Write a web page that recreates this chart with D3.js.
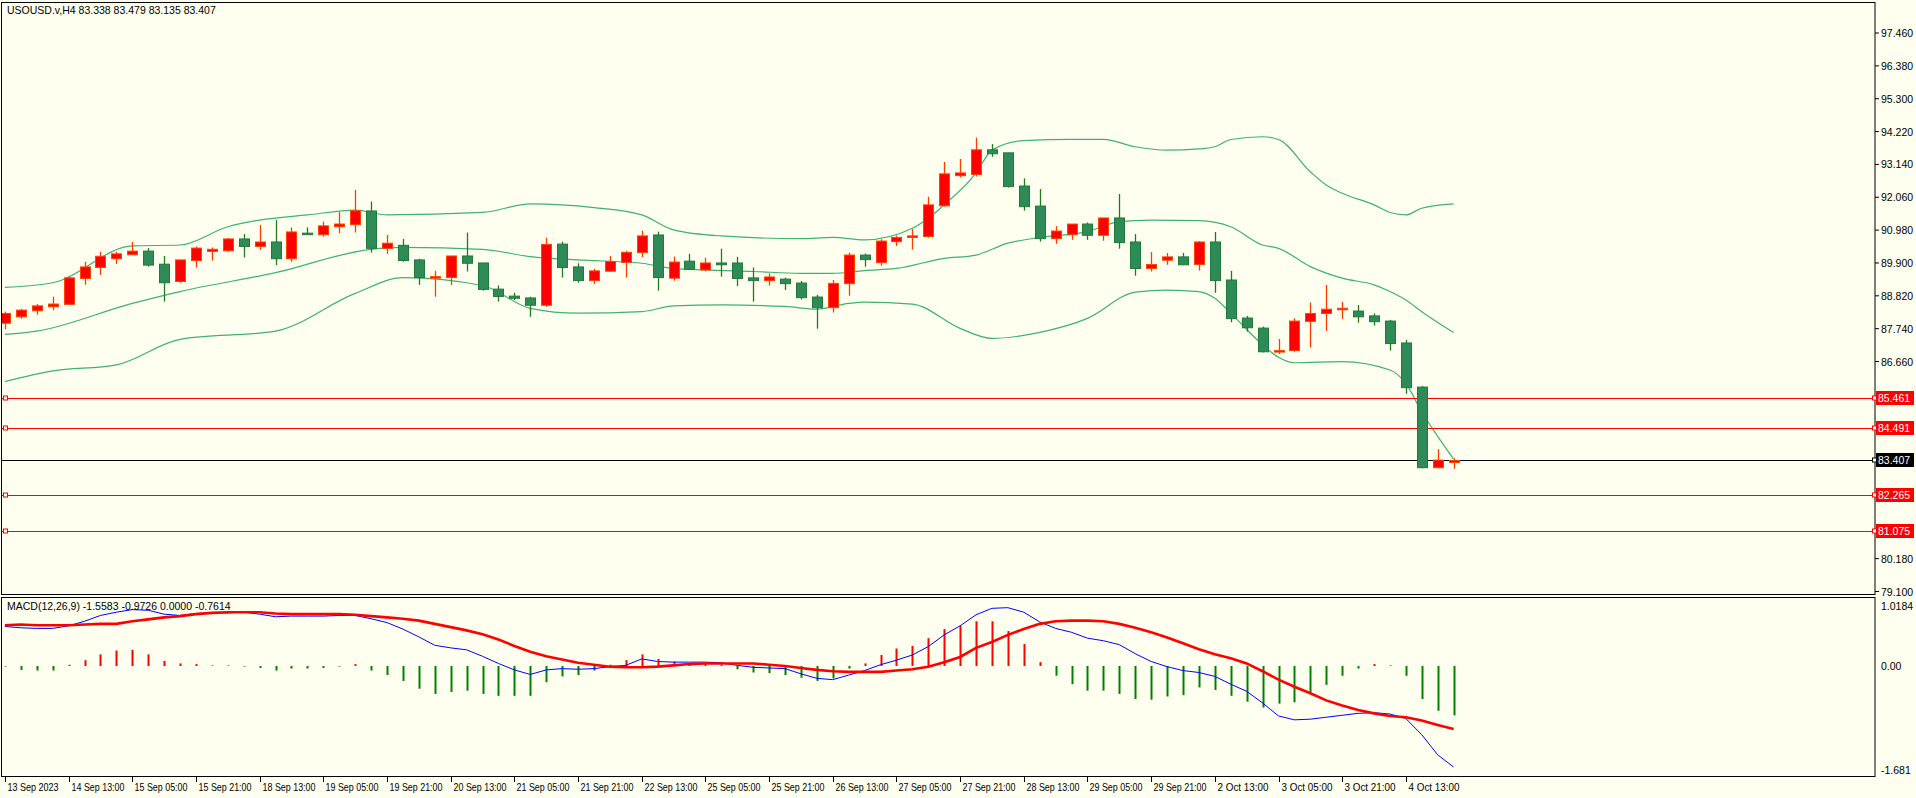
<!DOCTYPE html>
<html>
<head>
<meta charset="utf-8">
<script src="https://cdn.jsdelivr.net/npm/d3@7"></script>
<style>
  body { margin: 0; background: #fffff0; overflow: hidden; }
  text { font-family: "Liberation Sans", sans-serif; font-size: 10.5px; }
</style>
</head>
<body>
<script>
var w = 1916;
var h = 798;

var open = [87.92,88.13,88.33,88.46,88.54,89.39,89.75,90.04,90.17,90.29,
  89.86,89.29,89.98,90.28,90.30,90.69,90.44,90.59,90.04,90.88,
  90.83,91.09,91.16,91.61,90.38,90.48,90.00,89.41,89.42,90.13,
  89.90,89.04,88.81,88.75,88.51,90.52,89.77,89.32,89.63,89.92,
  90.24,90.82,89.40,89.96,89.67,89.90,89.90,89.41,89.32,89.37,
  89.24,88.78,88.43,89.22,90.16,89.91,90.60,90.74,90.77,91.78,
  92.77,92.81,93.62,93.52,92.43,91.77,90.70,90.83,91.18,90.81,
  91.38,90.59,89.72,89.99,90.10,89.85,90.59,89.34,88.09,87.76,
  86.98,87.02,87.98,88.24,88.38,88.32,88.16,87.99,87.27,85.82,
  83.17,83.338];
var high = [88.30,88.39,88.55,88.79,89.47,89.94,90.27,90.27,90.59,90.39,
  90.13,90.00,90.44,90.41,90.72,90.85,91.15,91.31,91.07,91.07,
  91.26,91.57,92.30,91.92,90.82,90.69,90.04,89.64,90.13,90.90,
  89.90,89.16,88.92,88.79,90.73,90.60,89.89,89.71,90.13,90.30,
  90.96,90.93,90.11,90.20,90.07,90.37,90.10,89.75,89.56,89.42,
  89.31,88.85,89.34,90.24,90.21,90.68,90.80,91.02,92.08,93.22,
  93.32,94.02,93.81,93.52,92.68,92.33,91.11,91.18,91.23,91.38,
  92.17,90.85,90.26,90.23,90.23,90.62,90.92,89.64,88.16,87.81,
  87.40,88.08,88.60,89.18,88.62,88.52,88.24,88.03,87.37,85.85,
  83.78,83.479];
var low = [87.72,88.07,88.20,88.35,88.54,89.18,89.51,89.87,90.17,89.78,
  88.63,89.25,89.75,89.98,90.27,90.08,90.33,89.83,89.94,90.83,
  90.77,90.88,90.90,90.24,90.20,89.94,89.18,88.79,89.17,89.62,
  88.99,88.63,88.68,88.13,88.46,89.42,89.25,89.21,89.60,89.42,
  90.09,88.99,89.32,89.69,89.62,89.45,89.14,88.63,89.16,89.01,
  88.70,87.74,88.27,88.82,89.78,89.81,90.46,90.34,90.73,91.75,
  92.71,92.74,93.39,92.38,91.62,90.60,90.53,90.66,90.66,90.63,
  90.37,89.48,89.62,89.84,89.83,89.65,88.92,87.95,87.64,86.96,
  86.91,86.98,87.12,87.67,88.06,87.94,87.84,87.02,85.60,83.15,
  83.15,83.135];
var close = [88.24,88.35,88.49,88.55,89.41,89.77,90.12,90.20,90.29,89.83,
  89.25,90.00,90.39,90.35,90.69,90.44,90.59,90.04,90.92,90.83,
  91.12,91.18,91.62,90.38,90.55,89.98,89.42,89.45,90.13,89.89,
  89.03,88.80,88.74,88.51,90.51,89.75,89.32,89.64,89.95,90.25,
  90.79,89.42,89.93,89.69,89.90,89.84,89.39,89.32,89.44,89.22,
  88.76,88.43,89.23,90.16,90.01,90.62,90.74,90.79,91.81,92.83,
  92.86,93.62,93.49,92.41,91.75,90.70,90.95,91.18,90.81,91.38,
  90.57,89.72,89.85,90.10,89.84,90.59,89.32,88.07,87.77,86.98,
  87.02,87.99,88.24,88.38,88.41,88.13,87.97,87.25,85.80,83.17,
  83.42,83.407];

// bollinger bands, read at a few bars
var upperBar = [0,3,8,11,14,16,19,22,24,30,33,37,40,42,45,50,52,54,57,58,59,61,62,64,67,69,71,73,75,76,77,79,80,82,83,84,86,87,88,89,91];
var upperVal = [89.10,89.25,90.46,90.49,91.09,91.31,91.48,91.64,91.48,91.56,91.84,91.72,91.48,90.99,90.79,90.70,90.74,90.66,91.04,91.37,91.81,92.85,93.61,93.92,93.96,93.96,93.72,93.61,93.65,93.72,93.96,94.05,93.96,92.90,92.46,92.19,91.81,91.56,91.48,91.70,91.84];
var midBar = [0,2,8,11,17,23,25,30,33,36,40,42,44,47,50,52,54,56,59,61,63,65,68,70,72,75,77,79,80,82,84,86,87,88,89,91];
var midVal = [87.55,87.66,88.57,88.96,89.58,90.35,90.41,90.35,90.11,90.00,89.89,89.72,89.67,89.62,89.56,89.56,89.65,89.72,90.05,90.16,90.55,90.74,90.93,91.26,91.31,91.29,91.09,90.49,90.38,89.78,89.40,89.18,88.96,88.68,88.30,87.61];
var lowerBar = [0,3,7,11,17,22,25,30,33,36,40,42,45,49,51,53,54,57,60,62,65,68,71,73,75,76,77,79,80,81,84,87,88,89,90,91];
var lowerVal = [86.00,86.35,86.55,87.39,87.66,88.90,89.42,89.16,88.41,88.25,88.30,88.49,88.52,88.47,88.38,88.57,88.61,88.55,87.75,87.42,87.62,88.08,88.94,89.01,88.96,88.74,88.25,87.21,86.80,86.62,86.66,86.38,85.94,85.00,84.20,83.45];

var macdMain = [0.61,0.59,0.58,0.58,0.62,0.69,0.78,0.83,0.87,0.86,
  0.80,0.78,0.81,0.82,0.82,0.83,0.80,0.76,0.77,0.77,
  0.77,0.78,0.78,0.73,0.67,0.57,0.45,0.32,0.28,0.25,
  0.15,0.04,-0.06,-0.13,-0.06,-0.04,-0.05,-0.04,-0.01,0.01,
  0.11,0.07,0.06,0.06,0.06,0.05,0.01,-0.02,-0.03,-0.04,
  -0.12,-0.19,-0.21,-0.14,-0.07,0.02,0.09,0.17,0.30,0.48,
  0.62,0.79,0.89,0.90,0.83,0.68,0.58,0.52,0.43,0.39,
  0.33,0.19,0.07,-0.01,-0.07,-0.10,-0.16,-0.28,-0.39,-0.57,
  -0.77,-0.83,-0.82,-0.79,-0.76,-0.73,-0.72,-0.74,-0.81,-1.06,
  -1.37,-1.5583];
var macdSignal = [0.63,0.64,0.63,0.63,0.63,0.64,0.65,0.65,0.69,0.72,
  0.75,0.77,0.80,0.82,0.83,0.83,0.83,0.81,0.80,0.80,
  0.80,0.80,0.79,0.77,0.75,0.73,0.70,0.65,0.60,0.55,
  0.49,0.41,0.31,0.22,0.15,0.10,0.05,0.02,-0.01,-0.02,
  -0.02,-0.01,0.01,0.03,0.04,0.04,0.04,0.04,0.02,0.00,
  -0.03,-0.06,-0.08,-0.09,-0.09,-0.09,-0.07,-0.05,-0.01,0.06,
  0.14,0.28,0.37,0.48,0.57,0.65,0.69,0.70,0.70,0.69,
  0.65,0.59,0.52,0.44,0.35,0.26,0.18,0.12,0.04,-0.08,
  -0.21,-0.32,-0.42,-0.53,-0.61,-0.68,-0.73,-0.77,-0.79,-0.84,
  -0.91,-0.9726];
var macdHist = [-0.01,-0.06,-0.07,-0.07,0.02,0.09,0.18,0.24,0.25,0.18,
  0.08,0.04,0.03,0.01,0.01,-0.01,-0.03,-0.07,-0.04,-0.04,
  -0.03,-0.01,0.03,-0.07,-0.14,-0.23,-0.35,-0.43,-0.40,-0.38,
  -0.43,-0.46,-0.46,-0.46,-0.25,-0.16,-0.14,-0.07,0.02,0.09,
  0.18,0.11,0.07,0.03,0.03,0.02,-0.05,-0.10,-0.11,-0.14,
  -0.18,-0.23,-0.19,-0.04,0.04,0.17,0.27,0.31,0.43,0.57,
  0.62,0.69,0.69,0.54,0.34,0.06,-0.15,-0.28,-0.38,-0.38,
  -0.43,-0.51,-0.52,-0.47,-0.45,-0.33,-0.37,-0.46,-0.55,-0.64,
  -0.58,-0.56,-0.43,-0.29,-0.15,-0.04,0.03,0.01,-0.15,-0.51,
  -0.69,-0.7614];

var timeLabels = ["13 Sep 2023","14 Sep 13:00","15 Sep 05:00","15 Sep 21:00","18 Sep 13:00",
  "19 Sep 05:00","19 Sep 21:00","20 Sep 13:00","21 Sep 05:00","21 Sep 21:00","22 Sep 13:00",
  "25 Sep 05:00","25 Sep 21:00","26 Sep 13:00","27 Sep 05:00","27 Sep 21:00","28 Sep 13:00",
  "29 Sep 05:00","29 Sep 21:00","2 Oct 13:00","3 Oct 05:00","3 Oct 21:00","4 Oct 13:00"];
// ticks that are not covered by the level tags
var priceTicks = [97.46,96.38,95.30,94.22,93.14,92.06,90.98,89.90,88.82,87.74,86.66,80.18,79.10];
var levels = [85.461,84.491,82.265,81.075];
var lastPrice = 83.407;
var macdTicks = [1.0184, 0, -1.681];
var macdTickText = ["1.0184","0.00","-1.681"];

var green = "#2e8b57", red = "#ff0000";
var right = 1875;

var svg = d3.select("body").append("svg")
  .attr("width", w).attr("height", h);

svg.append("rect").attr("width", w).attr("height", h).attr("fill", "#fffff0");

var x = d3.scaleLinear().domain([0, 91]).range([4.9, 4.9 + 91 * 15.92]);
var y = d3.scaleLinear().domain([79.10, 97.46]).range([591.5, 33]);
var ym = d3.scaleLinear().domain([-1.681, 1.0184]).range([775, 600]);

// panel frames
svg.append("rect").attr("x", 1.5).attr("y", 2.5).attr("width", right - 1.5).attr("height", 592)
  .attr("fill", "none").attr("stroke", "#000");
svg.append("rect").attr("x", 1.5).attr("y", 597.5).attr("width", right - 1.5).attr("height", 179)
  .attr("fill", "none").attr("stroke", "#000");

var main = svg.append("g");
svg.append("clipPath").attr("id", "cm").append("rect")
  .attr("x", 2).attr("y", 3).attr("width", right - 2).attr("height", 591);
main.attr("clip-path", "url(#cm)");

// bands
function band(bars, vals) {
  var line = d3.line().x(function (d) { return x(d[0]); }).y(function (d) { return y(d[1]); })
    .curve(d3.curveMonotoneX);
  main.append("path").datum(d3.zip(bars, vals)).attr("d", line)
    .attr("fill", "none").attr("stroke", "#3cb371").attr("stroke-width", 1.2);
}
band(upperBar, upperVal);
band(midBar, midVal);
band(lowerBar, lowerVal);

// level lines
levels.forEach(function (l) {
  main.append("line").attr("x1", 2).attr("x2", right).attr("y1", Math.round(y(l)) + 0.5).attr("y2", Math.round(y(l)) + 0.5)
    .attr("stroke", red).attr("stroke-width", 1);
  main.append("rect").attr("x", 3.5).attr("y", Math.round(y(l)) - 2).attr("width", 4).attr("height", 4)
    .attr("fill", "#fffff0").attr("stroke", red);
});
main.append("line").attr("x1", 2).attr("x2", right).attr("y1", Math.round(y(lastPrice)) + 0.5).attr("y2", Math.round(y(lastPrice)) + 0.5)
  .attr("stroke", "#000").attr("stroke-width", 1.2);

// candles
var idx = d3.range(open.length);
var up = function (i) { return close[i] >= open[i]; };
main.selectAll("line.wick").data(idx).enter().append("line")
  .attr("x1", function (i) { return Math.round(x(i)) + 0.5; })
  .attr("x2", function (i) { return Math.round(x(i)) + 0.5; })
  .attr("y1", function (i) { return y(high[i]); })
  .attr("y2", function (i) { return y(low[i]); })
  .attr("stroke", function (i) { return up(i) ? "#ff3c00" : "#1f7a1f"; })
  .attr("stroke-width", 1.3);
main.selectAll("rect.body").data(idx).enter().append("rect")
  .attr("x", function (i) { return Math.round(x(i)) - 4.5; })
  .attr("y", function (i) { return y(Math.max(open[i], close[i])); })
  .attr("width", 10)
  .attr("height", function (i) { return Math.max(1.5, Math.abs(y(open[i]) - y(close[i]))); })
  .attr("fill", function (i) { return up(i) ? red : green; })
  .attr("stroke", function (i) { return up(i) ? "#ff4500" : "#1f7a3a"; })
  .attr("stroke-width", 1);

// price axis
priceTicks.forEach(function (p) {
  svg.append("line").attr("x1", right).attr("x2", right + 4).attr("y1", y(p)).attr("y2", y(p)).attr("stroke", "#000");
  svg.append("text").attr("x", right + 6).attr("y", y(p) + 4).text(p.toFixed(3));
});
function tag(v, col) {
  var yy = Math.round(y(v));
  svg.append("rect").attr("x", right + 1).attr("y", yy - 7).attr("width", 38).attr("height", 14).attr("fill", col);
  svg.append("rect").attr("x", right - 2.5).attr("y", yy - 2).attr("width", 4).attr("height", 4)
    .attr("fill", "#fffff0").attr("stroke", col);
  svg.append("text").attr("x", right + 3).attr("y", yy + 4).attr("fill", "#fff").text(v.toFixed(3));
}
levels.forEach(function (l) { tag(l, red); });
tag(lastPrice, "#000");

svg.append("text").attr("x", 7).attr("y", 14).text("USOUSD.v,H4  83.338 83.479 83.135 83.407");

// MACD panel
var mg = svg.append("g");
mg.selectAll("line.hist").data(idx).enter().append("line")
  .attr("x1", function (i) { return Math.round(x(i)) + 0.5; })
  .attr("x2", function (i) { return Math.round(x(i)) + 0.5; })
  .attr("y1", ym(0))
  .attr("y2", function (i) { return ym(macdHist[i]); })
  .attr("stroke", function (i) { return macdHist[i] >= 0 ? red : "#008000"; })
  .attr("stroke-width", 2);
mg.append("path").datum(idx).attr("d", d3.line().x(function (i) { return x(i); }).y(function (i) { return ym(macdMain[i]); }))
  .attr("fill", "none").attr("stroke", "#0000ff").attr("stroke-width", 1);
mg.append("path").datum(idx).attr("d", d3.line().x(function (i) { return x(i); }).y(function (i) { return ym(macdSignal[i]); }))
  .attr("fill", "none").attr("stroke", red).attr("stroke-width", 2.6);
svg.append("text").attr("x", 7).attr("y", 610).text("MACD(12,26,9) -1.5583 -0.9726 0.0000 -0.7614");
macdTicks.forEach(function (v, k) {
  var yy = k == 0 ? 606 : (k == 2 ? 770 : ym(v));
  svg.append("text").attr("x", right + 6).attr("y", yy + 4).text(macdTickText[k]);
});

// time axis
timeLabels.forEach(function (t, k) {
  var xx = Math.round(x(k * 4)) + 0.5;
  svg.append("line").attr("x1", xx).attr("x2", xx).attr("y1", 777).attr("y2", 782).attr("stroke", "#000");
  svg.append("text").attr("x", xx + 2).attr("y", 791)
    .attr("textLength", t.length > 11 ? 53 : 51).attr("lengthAdjust", "spacingAndGlyphs").text(t);
});
</script>
</body>
</html>
